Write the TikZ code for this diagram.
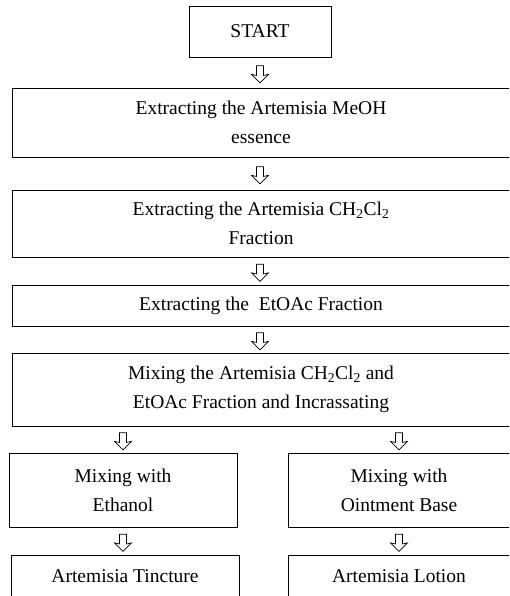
\documentclass[tikz,border=0pt]{standalone}
\usepackage{fontspec}
\setmainfont{Liberation Serif}
\usetikzlibrary{shapes.arrows,calc}
\begin{document}
\begin{tikzpicture}[x=1pt,y=1pt,
  box/.style={draw=black,line width=0.9pt,inner sep=0pt,align=center,
    font=\fontsize{19.5}{29}\selectfont},
  downarr/.style={draw=black,line width=0.7pt,single arrow,shape border rotate=270,
    minimum height=17pt,inner sep=3.2pt,single arrow head extend=4.8pt,
    single arrow head indent=1pt}]
\useasboundingbox (0,0) rectangle (509,596);
\clip (0,0) rectangle (509,596);
\node[box,minimum width=142pt,minimum height=51pt] (start) at (260,564.5) {START};
\node[box,minimum width=498pt,minimum height=69pt] (b1) at (261,473.5)
  {Extracting the Artemisia MeOH\\essence};
\node[box,minimum width=498pt,minimum height=67pt] (b2) at (261,372.5)
  {Extracting the Artemisia CH\textsubscript{2}Cl\textsubscript{2}\\Fraction};
\node[box,minimum width=498pt,minimum height=41pt] (b3) at (261,290.5)
  {Extracting the\ \ EtOAc Fraction};
\node[box,minimum width=498pt,minimum height=73pt] (b4) at (261,206.5)
  {Mixing the Artemisia CH\textsubscript{2}Cl\textsubscript{2} and\\EtOAc Fraction and Incrassating};
\node[box,minimum width=228pt,minimum height=74pt] (b5l) at (123,106)
  {Mixing with\\Ethanol};
\node[box,minimum width=222pt,minimum height=74pt] (b5r) at (399,106)
  {Mixing with\\Ointment Base};
\node[box,minimum width=228pt,minimum height=43pt] (b6l) at (125,19.5)
  {Artemisia Tincture};
\node[box,minimum width=222pt,minimum height=43pt] (b6r) at (399,19.5)
  {Artemisia Lotion};
% hollow arrows between steps
\node[downarr] (a1) at ($(start.south)!0.5!(start.south |- b1.north)$) {};
\node[downarr] (a2) at ($(b1.south -| start.south)!0.5!(b2.north -| start.south)$) {};
\node[downarr] (a3) at ($(b2.south -| start.south)!0.5!(b3.north -| start.south)$) {};
\node[downarr] (a4) at ($(b3.south -| start.south)!0.5!(b4.north -| start.south)$) {};
\node[downarr] (a5) at ($(b4.south -| b5l.north)!0.5!(b5l.north)$) {};
\node[downarr] (a6) at ($(b4.south -| b5r.north)!0.5!(b5r.north)$) {};
\node[downarr] (a7) at ($(b5l.south)!0.5!(b5l.south |- b6l.north)$) {};
\node[downarr] (a8) at ($(b5r.south)!0.5!(b5r.south |- b6r.north)$) {};
\end{tikzpicture}
\end{document}
